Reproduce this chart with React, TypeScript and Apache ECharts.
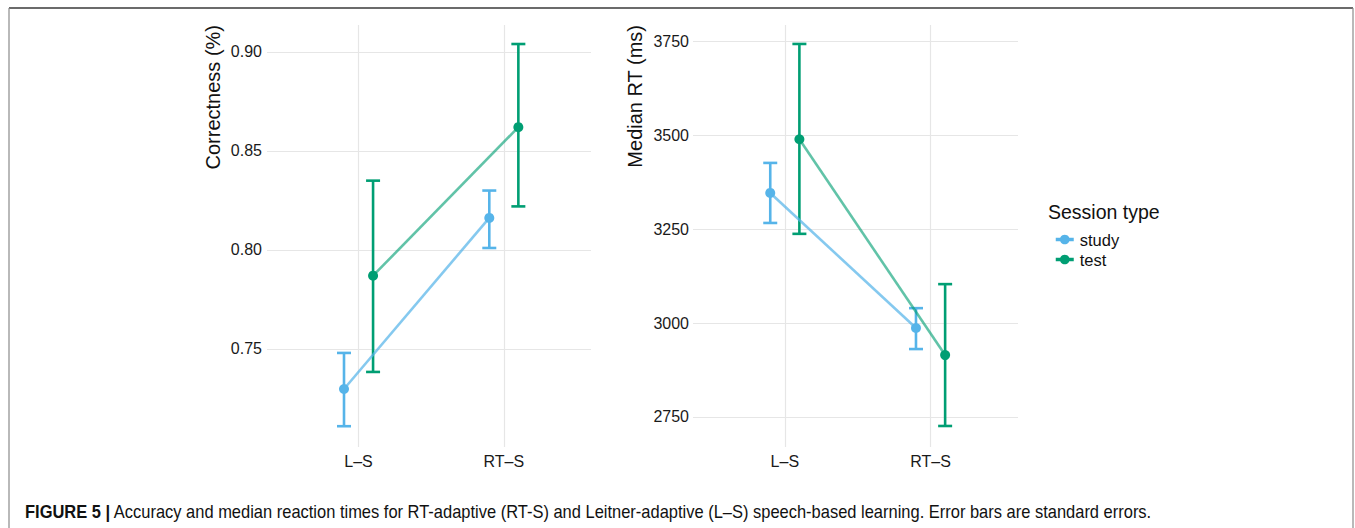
import React, { useEffect, useRef } from "react";
import * as echarts from "echarts";

const categories = ["L–S", "RT–S"];
const sessionTypes = ["study", "test"];

// Correctness (%)
const studyAccMean = [0.7298, 0.8162];
const studyAccLow = [0.711, 0.801];
const studyAccHigh = [0.748, 0.830];
const testAccMean = [0.787, 0.862];
const testAccLow = [0.7384, 0.822];
const testAccHigh = [0.835, 0.904];
const accTicks = [0.75, 0.8, 0.85, 0.9];

// Median RT (ms)
const studyRtMean = [3347, 2987];
const studyRtLow = [3267, 2931];
const studyRtHigh = [3427, 3040];
const testRtMean = [3490, 2915];
const testRtLow = [3238, 2726];
const testRtHigh = [3744, 3104];
const rtTicks = [2750, 3000, 3250, 3500, 3750];

const caption =
  "Accuracy and median reaction times for RT-adaptive (RT-S) and Leitner-adaptive (L–S) speech-based learning. Error bars are standard errors.";

const BLUE = "#56B4E9";
const GREEN = "#009E73";
const DODGE = 0.1;
const FONT = "Liberation Sans, Arial, Helvetica, sans-serif";

function pts(mean: number[], lo: number[], hi: number[], off: number) {
  return mean.map((m, i) => [i + off, m, lo[i], hi[i]]);
}

function errorBarSeries(idx: number, data: number[][], color: string) {
  return {
    type: "custom",
    xAxisIndex: idx,
    yAxisIndex: idx,
    z: 2,
    itemStyle: { color },
    encode: { x: 0, y: [1, 2, 3] },
    data,
    renderItem: (params: any, api: any) => {
      const x = api.value(0);
      const lo = api.coord([x, api.value(2)]);
      const hi = api.coord([x, api.value(3)]);
      const hw = 7;
      const st = { stroke: color, lineWidth: 2.6 };
      return {
        type: "group",
        children: [
          { type: "line", shape: { x1: lo[0], y1: lo[1], x2: hi[0], y2: hi[1] }, style: st },
          { type: "line", shape: { x1: lo[0] - hw, y1: lo[1], x2: lo[0] + hw, y2: lo[1] }, style: st },
          { type: "line", shape: { x1: hi[0] - hw, y1: hi[1], x2: hi[0] + hw, y2: hi[1] }, style: st },
        ],
      };
    },
  };
}

function lineSeries(name: string, idx: number, data: number[][], color: string, lineOpacity: number) {
  return {
    type: "line",
    name,
    xAxisIndex: idx,
    yAxisIndex: idx,
    z: 3,
    data: data.map((d) => [d[0], d[1]]),
    symbol: "circle",
    symbolSize: 10,
    itemStyle: { color, opacity: 1 },
    lineStyle: { color, width: 2.6, opacity: lineOpacity },
  };
}

export default function App() {
  const ref = useRef<HTMLDivElement>(null);
  useEffect(() => {
    if (!ref.current) return;
    const chart = echarts.init(ref.current, null, { renderer: "svg" });
    const gridLine = { show: true, lineStyle: { color: "#e6e6e6", width: 1.2 } };
    const xAxisBase = (gi: number) => ({
      type: "value",
      gridIndex: gi,
      min: -0.63,
      max: 1.6,
      axisLine: { show: false },
      axisTick: { show: false, customValues: [0, 1] },
      splitLine: gridLine,
      axisLabel: {
        customValues: [0, 1],
        formatter: (v: number) => categories[Math.round(v)] ?? "",
        color: "#1a1a1a",
        fontSize: 16,
        fontFamily: FONT,
        margin: 6,
      },
    });
    const option: any = {
      animation: false,
      grid: [
        { left: 267, top: 25, width: 324, height: 422 },
        { left: 693, top: 25, width: 325, height: 422 },
      ],
      xAxis: [xAxisBase(0), xAxisBase(1)],
      yAxis: [
        {
          type: "value",
          gridIndex: 0,
          min: 0.7005,
          max: 0.9136,
          axisLine: { show: false },
          axisTick: { show: false, customValues: accTicks },
          splitLine: gridLine,
          axisLabel: {
            customValues: accTicks,
            formatter: (v: number) => v.toFixed(2),
            color: "#1a1a1a",
            fontSize: 16,
            fontFamily: FONT,
            margin: 5,
          },
        },
        {
          type: "value",
          gridIndex: 1,
          min: 2670,
          max: 3794.5,
          axisLine: { show: false },
          axisTick: { show: false, customValues: rtTicks },
          splitLine: gridLine,
          axisLabel: {
            customValues: rtTicks,
            formatter: (v: number) => String(Math.round(v)),
            color: "#1a1a1a",
            fontSize: 16,
            fontFamily: FONT,
            margin: 4,
          },
        },
      ],
      legend: {
        data: sessionTypes,
        orient: "vertical",
        left: 1049,
        top: 226,
        itemWidth: 18,
        itemHeight: 12,
        itemGap: 3,
        selectedMode: false,
        lineStyle: { width: 3.5, opacity: 1 },
        textStyle: {
          fontSize: 16.5,
          lineHeight: 14,
          fontFamily: FONT,
          color: "#111",
          padding: [0, 0, 0, 1],
        },
      },
      series: [
        errorBarSeries(0, pts(studyAccMean, studyAccLow, studyAccHigh, -DODGE), BLUE),
        errorBarSeries(0, pts(testAccMean, testAccLow, testAccHigh, DODGE), GREEN),
        lineSeries(sessionTypes[0], 0, pts(studyAccMean, studyAccLow, studyAccHigh, -DODGE), BLUE, 0.72),
        lineSeries(sessionTypes[1], 0, pts(testAccMean, testAccLow, testAccHigh, DODGE), GREEN, 0.62),
        errorBarSeries(1, pts(studyRtMean, studyRtLow, studyRtHigh, -DODGE), BLUE),
        errorBarSeries(1, pts(testRtMean, testRtLow, testRtHigh, DODGE), GREEN),
        lineSeries(sessionTypes[0], 1, pts(studyRtMean, studyRtLow, studyRtHigh, -DODGE), BLUE, 0.72),
        lineSeries(sessionTypes[1], 1, pts(testRtMean, testRtLow, testRtHigh, DODGE), GREEN, 0.62),
      ],
      graphic: [
        { type: "line", shape: { x1: 9, y1: 8, x2: 1353, y2: 8 }, style: { stroke: "#3a3a3a", lineWidth: 1.5 } },
        { type: "line", shape: { x1: 9, y1: 8, x2: 9, y2: 528 }, style: { stroke: "#8a8a8a", lineWidth: 1.2 } },
        { type: "line", shape: { x1: 1353, y1: 8, x2: 1353, y2: 528 }, style: { stroke: "#8a8a8a", lineWidth: 1.2 } },
        {
          type: "text",
          x: 213,
          y: 25,
          rotation: Math.PI / 2,
          style: { text: "Correctness (%)", align: "right", verticalAlign: "middle", fontSize: 20, fontFamily: FONT, fill: "#111" },
        },
        {
          type: "text",
          x: 635,
          y: 25,
          rotation: Math.PI / 2,
          style: { text: "Median RT (ms)", align: "right", verticalAlign: "middle", fontSize: 20, fontFamily: FONT, fill: "#111" },
        },
        {
          type: "text",
          x: 1048,
          y: 212,
          style: { text: "Session type", align: "left", verticalAlign: "middle", fontSize: 19.5, fontFamily: FONT, fill: "#111" },
        },
        {
          type: "text",
          x: 25,
          y: 512,
          scaleX: 0.915,
          style: {
            text: "{b|FIGURE 5 |} " + caption,
            align: "left",
            verticalAlign: "middle",
            fontSize: 18,
            fontFamily: FONT,
            fill: "#111",
            rich: {
              b: { fontWeight: "bold", fontSize: 18, fontFamily: FONT, fill: "#111" },
            },
          },
        },
      ],
    };
    chart.setOption(option);
    return () => chart.dispose();
  }, []);
  return <div ref={ref} style={{ position: "absolute", left: 0, top: 0, width: 1355, height: 528 }} />;
}
